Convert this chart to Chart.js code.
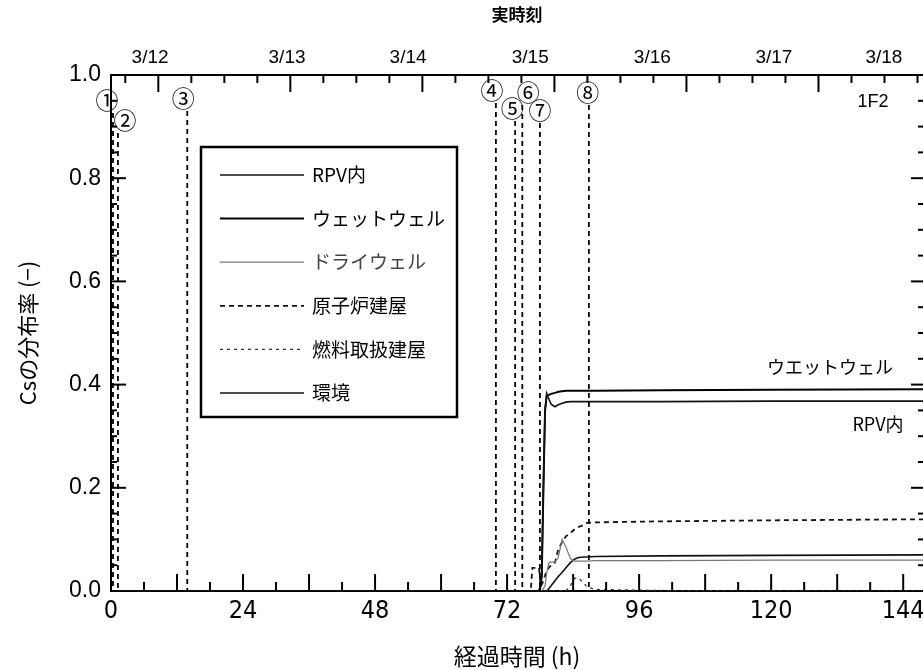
<!DOCTYPE html>
<html>
<head>
<meta charset="utf-8">
<script src="https://cdn.jsdelivr.net/npm/chart.js@4.4.1/dist/chart.umd.min.js"></script>
<style>
  html, body { margin: 0; padding: 0; background: #fff; overflow: hidden; }
  #wrap { width: 923px; height: 670px; }
</style>
</head>
<body>
<div id="wrap"><canvas id="csChart" width="923" height="670"></canvas></div>
<script>
// elapsed time (h) shared by every series
const hours = [0, 76.3, 76.6, 77.8, 78.1, 78.3, 78.6, 78.9, 79.2, 79.6, 80, 80.7, 81.3, 82, 82.7, 83.5, 84.3, 85, 86, 86.5, 88, 100, 120, 147.6];

const wetwell = [0, 0, 0, 0, 0.01, 0.03, 0.2, 0.35, 0.378, 0.38, 0.382, 0.384, 0.386, 0.387, 0.388, 0.388, 0.388, 0.388, 0.388, 0.388, 0.388, 0.389, 0.39, 0.391];
const rpv = [0, 0, 0, 0, 0.01, 0.03, 0.2, 0.35, 0.383, 0.372, 0.362, 0.357, 0.361, 0.364, 0.366, 0.367, 0.367, 0.367, 0.367, 0.367, 0.367, 0.367, 0.368, 0.368];
const drywell = [0, 0, 0, 0, 0, 0, 0.005, 0.01, 0.035, 0.055, 0.056, 0.056, 0.065, 0.1, 0.085, 0.063, 0.058, 0.058, 0.058, 0.058, 0.059, 0.059, 0.06, 0.06];
const reactorBldg = [0, 0, 0.045, 0.045, 0.01, 0.012, 0.02, 0.03, 0.04, 0.045, 0.05, 0.055, 0.08, 0.095, 0.106, 0.112, 0.12, 0.124, 0.128, 0.132, 0.133, 0.135, 0.137, 0.139];
const fuelBldg = [0, 0, 0, 0, 0, 0, 0, 0, 0, 0, 0, 0, 0, 0, 0, 0.01, 0.025, 0.025, 0.015, 0.008, 0.003, 0.001, 0, 0];
const environment = [0, 0, 0, 0, 0, 0, 0, 0, 0, 0.005, 0.01, 0.02, 0.028, 0.036, 0.045, 0.055, 0.062, 0.065, 0.066, 0.066, 0.067, 0.068, 0.069, 0.07];

const seriesNames = ["RPV内", "ウェットウェル", "ドライウェル", "原子炉建屋", "燃料取扱建屋", "環境"];

// axis ticks
const elapsedTicks = [0, 24, 48, 72, 96, 120, 144];
const dateLabels = ["3/12", "3/13", "3/14", "3/15", "3/16", "3/17", "3/18"];
const dateLabelHours = [7.1, 32, 54, 76.2, 98.4, 120.5, 140.5];
const midnightHour = 8.6; // 3/12 0:00 in elapsed hours

// event markers
const eventHours = [0, 0.9, 13.5, 69.6, 73.1, 74.4, 77.6, 86.5];
const eventLabels = ["①", "②", "③", "④", "⑤", "⑥", "⑦", "⑧"];

const xMax = 147.6;
const jp = '"Noto Sans CJK JP", "Liberation Sans", sans-serif';
const num = '"Liberation Sans", Arial, sans-serif';
const narrow = '"Liberation Sans Narrow", "DejaVu Sans Condensed", "Liberation Sans", sans-serif';

const toPoints = (vals) => hours.map((h, i) => ({ x: h, y: vals[i] }));

const styles = [
  { data: rpv, color: "#111", width: 1.6, dash: [] },
  { data: wetwell, color: "#000", width: 2, dash: [] },
  { data: drywell, color: "#777", width: 1.2, dash: [] },
  { data: reactorBldg, color: "#111", width: 1.8, dash: [5, 4] },
  { data: fuelBldg, color: "#333", width: 1.3, dash: [3, 4] },
  { data: environment, color: "#111", width: 1.6, dash: [] },
];

// keep the plot edges fixed: no extra label padding
const noPad = (s) => { s.paddingLeft = 0; s.paddingRight = 0; s.paddingTop = 0; s.paddingBottom = 0; };

// inward ticks, event lines, legend box and notes
const decorPlugin = {
  id: "decor",
  afterDraw(chart) {
    const { ctx, chartArea: a, scales } = chart;
    const x = scales.x, y = scales.y;
    ctx.save();
    ctx.strokeStyle = "#000";
    ctx.lineWidth = 2;

    // bottom ticks (6 h)
    for (let h = 6; h <= xMax; h += 6) {
      const px = x.getPixelForValue(h);
      const len = h % 12 === 0 ? 17 : 9;
      ctx.beginPath(); ctx.moveTo(px, a.bottom); ctx.lineTo(px, a.bottom - len); ctx.stroke();
    }
    // top ticks (6 h, long at midnight)
    for (let k = -1; midnightHour + k * 6 <= xMax; k++) {
      const h = midnightHour + k * 6;
      if (h <= 0) continue;
      const px = x.getPixelForValue(h);
      const len = ((k % 4) + 4) % 4 === 0 ? 17 : 8;
      ctx.beginPath(); ctx.moveTo(px, a.top); ctx.lineTo(px, a.top + len); ctx.stroke();
    }
    // left / right ticks (0.05)
    for (let i = 1; i < 20; i++) {
      const v = i * 0.05;
      const py = y.getPixelForValue(v);
      const major = i % 4 === 0;
      ctx.beginPath(); ctx.moveTo(a.left, py); ctx.lineTo(a.left + (major ? 15 : 6), py); ctx.stroke();
      ctx.beginPath(); ctx.moveTo(a.right, py); ctx.lineTo(a.right - (major ? 12 : 5), py); ctx.stroke();
    }

    // event lines
    const labelDy = [25, 45, 23, 15, 33, 17, 35, 17];
    const labelDx = [-4, 9, -2, -2, -1, 8, 2, 1];
    ctx.font = "23px " + jp;
    ctx.fillStyle = "#000";
    ctx.textAlign = "center";
    ctx.textBaseline = "middle";
    eventHours.forEach((h, i) => {
      const px = x.getPixelForValue(h);
      const ly = a.top + labelDy[i];
      ctx.fillText(eventLabels[i], px + labelDx[i], ly);
      ctx.setLineDash([5, 4]);
      ctx.lineWidth = 1.8;
      ctx.beginPath(); ctx.moveTo(px + 2, ly + 13); ctx.lineTo(px + 2, a.bottom); ctx.stroke();
      ctx.setLineDash([]);
    });

    // legend box
    const bx = a.left + 90, by = a.top + 72, bw = 256, bh = 270;
    ctx.lineWidth = 2.5;
    ctx.strokeRect(bx, by, bw, bh);
    ctx.textAlign = "left";
    ctx.font = "19px " + jp;
    styles.forEach((s, i) => {
      const ry = by + 28 + i * 43.6;
      ctx.strokeStyle = s.color;
      ctx.lineWidth = s.width;
      ctx.setLineDash(s.dash);
      ctx.beginPath(); ctx.moveTo(bx + 19, ry); ctx.lineTo(bx + 103, ry); ctx.stroke();
      ctx.setLineDash([]);
      ctx.fillStyle = i === 2 ? "#444" : "#000";
      ctx.fillText(seriesNames[i], bx + 111, ry);
    });

    // notes
    ctx.fillStyle = "#000";
    ctx.font = "18px " + jp;
    ctx.textAlign = "center";
    ctx.fillText("ウエットウェル", 830, 367);
    ctx.fillText("RPV内", 878, 424);
    ctx.font = "18px " + num;
    ctx.fillText("1F2", 873, 102);
    ctx.restore();
  },
};

new Chart(document.getElementById("csChart"), {
  type: "line",
  data: {
    datasets: styles.map((s, i) => ({
      label: seriesNames[i],
      data: toPoints(s.data),
      borderColor: s.color,
      borderWidth: s.width,
      borderDash: s.dash,
      pointRadius: 0,
      fill: false,
      tension: 0,
      xAxisID: "x",
      yAxisID: "y",
    })),
  },
  options: {
    responsive: false,
    animation: false,
    layout: { padding: 0 },
    plugins: { legend: { display: false }, tooltip: { enabled: false } },
    scales: {
      x: {
        type: "linear",
        position: "bottom",
        min: 0,
        max: xMax,
        afterBuildTicks: (s) => { s.ticks = elapsedTicks.map((v) => ({ value: v })); },
        afterFit: (s) => { s.height = 79; noPad(s); },
        grid: { display: false, drawTicks: false },
        border: { display: true, color: "#000", width: 2 },
        ticks: { color: "#000", padding: 5, maxRotation: 0, autoSkip: false, font: { family: narrow, size: 25 } },
        title: { display: true, text: "経過時間 (h)", color: "#000", font: { family: jp, size: 23 }, padding: { top: 2, bottom: 0 } },
      },
      x2: {
        type: "linear",
        position: "top",
        min: 0,
        max: xMax,
        afterBuildTicks: (s) => { s.ticks = dateLabelHours.map((v) => ({ value: v })); },
        afterFit: (s) => { s.height = 75; noPad(s); },
        grid: { display: false, drawTicks: false },
        border: { display: true, color: "#000", width: 2 },
        ticks: { color: "#000", padding: 6, maxRotation: 0, autoSkip: false, font: { family: num, size: 19 },
          callback: (v, i) => dateLabels[i] },
        title: { display: true, text: "実時刻", color: "#000", font: { family: jp, size: 17, weight: "bold" }, padding: { top: 4, bottom: 0 } },
      },
      y: {
        min: 0,
        max: 1,
        afterFit: (s) => { s.width = 111; noPad(s); },
        grid: { display: false, drawTicks: false },
        border: { display: true, color: "#000", width: 2 },
        ticks: { stepSize: 0.2, color: "#000", padding: 10, font: { family: num, size: 23 },
          callback: (v) => v.toFixed(1) },
        title: { display: true, text: "Csの分布率 (−)", color: "#000", font: { family: jp, size: 22 }, padding: { top: 14, bottom: 0 } },
      },
    },
  },
  plugins: [decorPlugin],
});
</script>
</body>
</html>
